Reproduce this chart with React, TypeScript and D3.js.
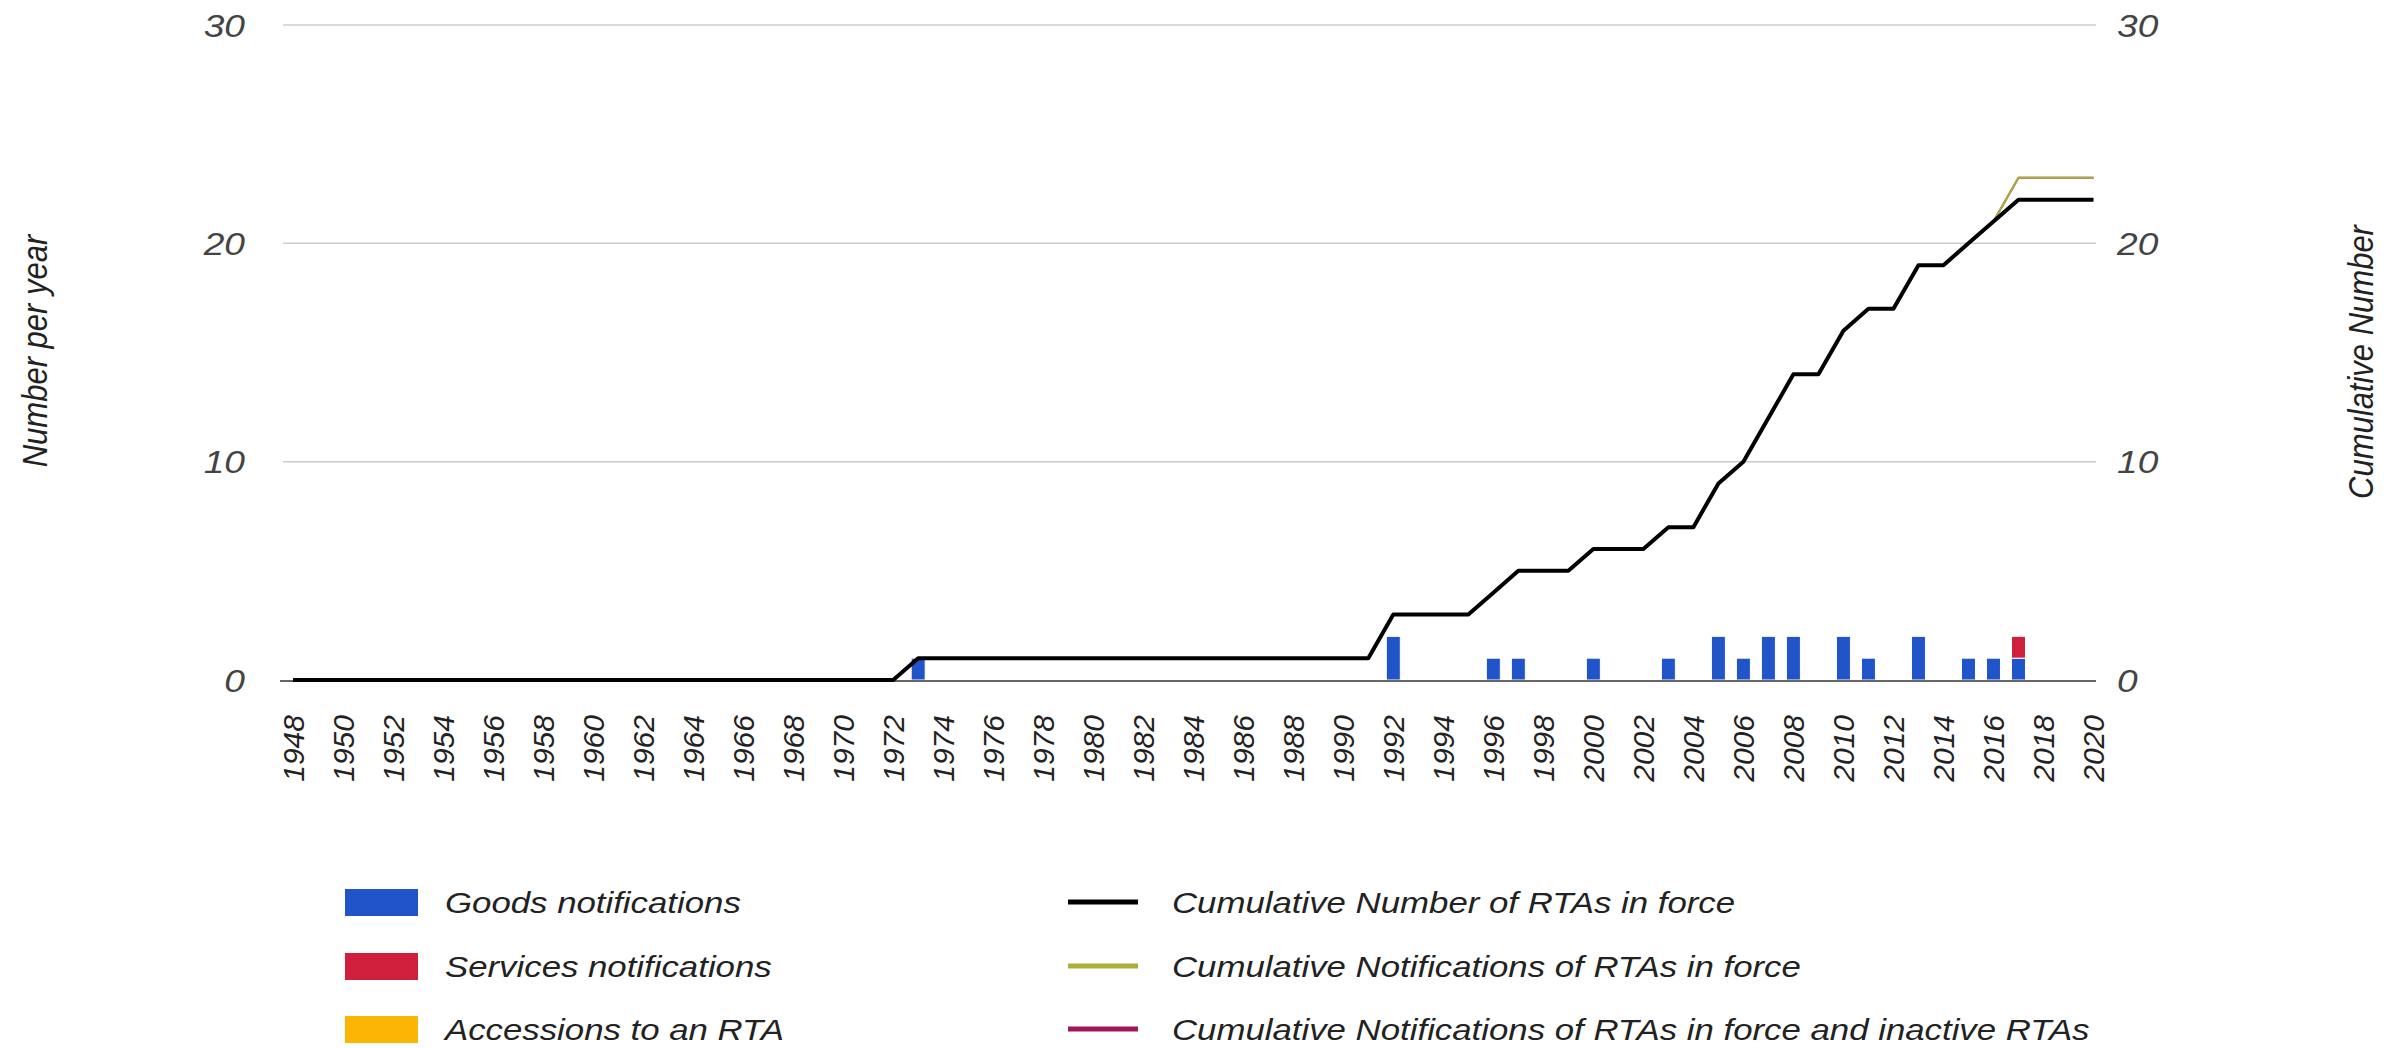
import { useEffect, useRef } from 'react';
import * as d3 from 'd3';

// years on the category axis
const years = [
  1948, 1949, 1950, 1951, 1952, 1953, 1954, 1955, 1956, 1957, 1958, 1959, 1960, 1961, 1962, 1963, 1964, 1965,
  1966, 1967, 1968, 1969, 1970, 1971, 1972, 1973, 1974, 1975, 1976, 1977, 1978, 1979, 1980, 1981, 1982, 1983,
  1984, 1985, 1986, 1987, 1988, 1989, 1990, 1991, 1992, 1993, 1994, 1995, 1996, 1997, 1998, 1999, 2000, 2001,
  2002, 2003, 2004, 2005, 2006, 2007, 2008, 2009, 2010, 2011, 2012, 2013, 2014, 2015, 2016, 2017, 2018, 2019,
  2020,
];

const tickYears = [
  1948, 1950, 1952, 1954, 1956, 1958, 1960, 1962, 1964, 1966, 1968, 1970, 1972, 1974, 1976, 1978, 1980, 1982,
  1984, 1986, 1988, 1990, 1992, 1994, 1996, 1998, 2000, 2002, 2004, 2006, 2008, 2010, 2012, 2014, 2016, 2018,
  2020,
];

const yTicks = [0, 10, 20, 30];

// per-year notifications (1948 .. 2020)
const goods = [
  0, 0, 0, 0, 0, 0, 0, 0, 0, 0, 0, 0, 0, 0, 0, 0, 0, 0, 0, 0, 0, 0, 0, 0, 0, 1, 0, 0, 0, 0, 0, 0, 0, 0, 0, 0,
  0, 0, 0, 0, 0, 0, 0, 0, 2, 0, 0, 0, 1, 1, 0, 0, 1, 0, 0, 1, 0, 2, 1, 2, 2, 0, 2, 1, 0, 2, 0, 1, 1, 1, 0, 0,
  0,
];
const services = [
  0, 0, 0, 0, 0, 0, 0, 0, 0, 0, 0, 0, 0, 0, 0, 0, 0, 0, 0, 0, 0, 0, 0, 0, 0, 0, 0, 0, 0, 0, 0, 0, 0, 0, 0, 0,
  0, 0, 0, 0, 0, 0, 0, 0, 0, 0, 0, 0, 0, 0, 0, 0, 0, 0, 0, 0, 0, 0, 0, 0, 0, 0, 0, 0, 0, 0, 0, 0, 0, 1, 0, 0,
  0,
];
const accessions = [
  0, 0, 0, 0, 0, 0, 0, 0, 0, 0, 0, 0, 0, 0, 0, 0, 0, 0, 0, 0, 0, 0, 0, 0, 0, 0, 0, 0, 0, 0, 0, 0, 0, 0, 0, 0,
  0, 0, 0, 0, 0, 0, 0, 0, 0, 0, 0, 0, 0, 0, 0, 0, 0, 0, 0, 0, 0, 0, 0, 0, 0, 0, 0, 0, 0, 0, 0, 0, 0, 0, 0, 0,
  0,
];

// cumulative series (1948 .. 2020)
const cumInForce = [
  0, 0, 0, 0, 0, 0, 0, 0, 0, 0, 0, 0, 0, 0, 0, 0, 0, 0, 0, 0, 0, 0, 0, 0, 0, 1, 1, 1, 1, 1, 1, 1, 1, 1, 1, 1,
  1, 1, 1, 1, 1, 1, 1, 1, 3, 3, 3, 3, 4, 5, 5, 5, 6, 6, 6, 7, 7, 9, 10, 12, 14, 14, 16, 17, 17, 19, 19, 20, 21,
  22, 22, 22, 22,
];
const cumNotifInForce = [
  0, 0, 0, 0, 0, 0, 0, 0, 0, 0, 0, 0, 0, 0, 0, 0, 0, 0, 0, 0, 0, 0, 0, 0, 0, 1, 1, 1, 1, 1, 1, 1, 1, 1, 1, 1,
  1, 1, 1, 1, 1, 1, 1, 1, 3, 3, 3, 3, 4, 5, 5, 5, 6, 6, 6, 7, 7, 9, 10, 12, 14, 14, 16, 17, 17, 19, 19, 20, 21,
  23, 23, 23, 23,
];
const cumNotifInactive = [
  0, 0, 0, 0, 0, 0, 0, 0, 0, 0, 0, 0, 0, 0, 0, 0, 0, 0, 0, 0, 0, 0, 0, 0, 0, 1, 1, 1, 1, 1, 1, 1, 1, 1, 1, 1,
  1, 1, 1, 1, 1, 1, 1, 1, 3, 3, 3, 3, 4, 5, 5, 5, 6, 6, 6, 7, 7, 9, 10, 12, 14, 14, 16, 17, 17, 19, 19, 20, 21,
  23, 23, 23, 23,
];

const barLegend = ['Goods notifications', 'Services notifications', 'Accessions to an RTA'];
const lineLegend = [
  'Cumulative Number of RTAs in force',
  'Cumulative Notifications of RTAs in force',
  'Cumulative Notifications of RTAs in force and inactive RTAs',
];

const BLUE = '#2153c9';
const RED = '#cf1f3d';
const AMBER = '#fbb605';
const BLACK = '#000000';
const OLIVE = '#abb03b';
const PURPLE = '#a0175c';

const W = 2395;
const H = 1048;
const SX = 1.16; // glyphs in the picture are a bit wider than tall

const App = () => {
  const ref = useRef<SVGSVGElement | null>(null);

  useEffect(() => {
    if (!ref.current) return;
    const svg = d3.select(ref.current);
    svg.selectAll('*').remove();

    const left = 283;
    const right = 2096;
    const x = d3.scaleLinear().domain([1947.6, 2020.1]).range([left, right]);
    const y = d3.scaleLinear().domain([0, 30]).range([680, 25]);
    const font = 'Arial, "Liberation Sans", sans-serif';

    // gridlines
    svg
      .append('g')
      .selectAll('line')
      .data(yTicks.filter(t => t > 0))
      .join('line')
      .attr('x1', left)
      .attr('x2', right)
      .attr('y1', d => y(d))
      .attr('y2', d => y(d))
      .attr('stroke', '#cccccc')
      .attr('stroke-width', 1.5);

    // y labels, both sides
    const yl = svg.append('g').attr('font-family', font).attr('font-style', 'italic').attr('font-size', 32).attr('fill', '#444');
    yl.selectAll('text.l')
      .data(yTicks)
      .join('text')
      .attr('class', 'l')
      .attr('text-anchor', 'end')
      .attr('dy', '0.36em')
      .attr('transform', d => `translate(245,${y(d)}) scale(${SX},1)`)
      .text(d => d);
    yl.selectAll('text.r')
      .data(yTicks)
      .join('text')
      .attr('class', 'r')
      .attr('text-anchor', 'start')
      .attr('dy', '0.36em')
      .attr('transform', d => `translate(2117,${y(d)}) scale(${SX},1)`)
      .text(d => d);

    // axis titles
    const titles = svg.append('g').attr('font-family', font).attr('font-style', 'italic').attr('font-size', 31).attr('fill', '#222');
    titles
      .append('text')
      .attr('text-anchor', 'middle')
      .attr('dy', '0.35em')
      .attr('transform', `translate(34,351) scale(${SX},1) rotate(-90)`)
      .text('Number per year');
    titles
      .append('text')
      .attr('text-anchor', 'middle')
      .attr('dy', '0.35em')
      .attr('transform', `translate(2360,362) scale(${SX},1) rotate(-90)`)
      .text('Cumulative Number');

    // x labels
    svg
      .append('g')
      .attr('font-family', font)
      .attr('font-style', 'italic')
      .attr('font-size', 30)
      .attr('fill', '#222')
      .selectAll('text')
      .data(tickYears)
      .join('text')
      .attr('text-anchor', 'end')
      .attr('dy', '0.35em')
      .attr('transform', d => `translate(${x(d)},715) rotate(-90)`)
      .text(d => d);

    // stacked bars
    const rows = years.map((yr, i) => ({ yr, goods: goods[i], services: services[i], accessions: accessions[i] }));
    const stack = d3.stack<(typeof rows)[number]>().keys(['goods', 'services', 'accessions'])(rows);
    const colors = [BLUE, RED, AMBER];
    const bw = 14;
    svg
      .append('g')
      .selectAll('g')
      .data(stack)
      .join('g')
      .attr('fill', (_, i) => colors[i])
      .selectAll('rect')
      .data(d => d.filter(s => s[1] - s[0] > 0))
      .join('rect')
      .attr('x', d => x(d.data.yr) - bw / 2)
      .attr('width', bw)
      .attr('y', d => y(d[1]))
      .attr('height', d => y(d[0]) - y(d[1]))
      .attr('stroke', '#fff')
      .attr('stroke-width', 1);

    // baseline
    svg
      .append('line')
      .attr('x1', left - 3)
      .attr('x2', right)
      .attr('y1', y(0) + 1)
      .attr('y2', y(0) + 1)
      .attr('stroke', '#333')
      .attr('stroke-width', 1.5);

    // cumulative lines
    const line = d3
      .line<number>()
      .x((_, i) => x(years[i]))
      .y(d => y(d));
    const series: [number[], string, number][] = [
      [cumNotifInactive, PURPLE, 2],
      [cumNotifInForce, OLIVE, 2],
      [cumInForce, BLACK, 4],
    ];
    series.forEach(([vals, color, w]) => {
      svg
        .append('path')
        .attr('fill', 'none')
        .attr('stroke', color)
        .attr('stroke-width', w)
        .attr('stroke-linejoin', 'round')
        .attr('d', line(vals));
    });

    // legend
    const lg = svg.append('g').attr('font-family', font).attr('font-style', 'italic').attr('font-size', 30).attr('fill', '#222');
    const rowY = [902, 966, 1029];
    barLegend.forEach((label, i) => {
      lg.append('rect').attr('x', 345).attr('y', rowY[i] - 13).attr('width', 73).attr('height', 27).attr('fill', colors[i]);
      lg.append('text')
        .attr('dy', '0.35em')
        .attr('transform', `translate(445,${rowY[i]}) scale(${SX},1)`)
        .text(label);
    });
    const lineColors = [BLACK, OLIVE, PURPLE];
    lineLegend.forEach((label, i) => {
      lg.append('line')
        .attr('x1', 1068)
        .attr('x2', 1138)
        .attr('y1', rowY[i])
        .attr('y2', rowY[i])
        .attr('stroke', lineColors[i])
        .attr('stroke-width', 5);
      lg.append('text')
        .attr('dy', '0.35em')
        .attr('transform', `translate(1172,${rowY[i]}) scale(${SX},1)`)
        .text(label);
    });
  }, []);

  return (
    <svg
      ref={ref}
      width={W}
      height={H}
      viewBox={`0 0 ${W} ${H}`}
      style={{ position: 'absolute', left: 0, top: 0, display: 'block', background: '#fff' }}
    />
  );
};

export default App;
